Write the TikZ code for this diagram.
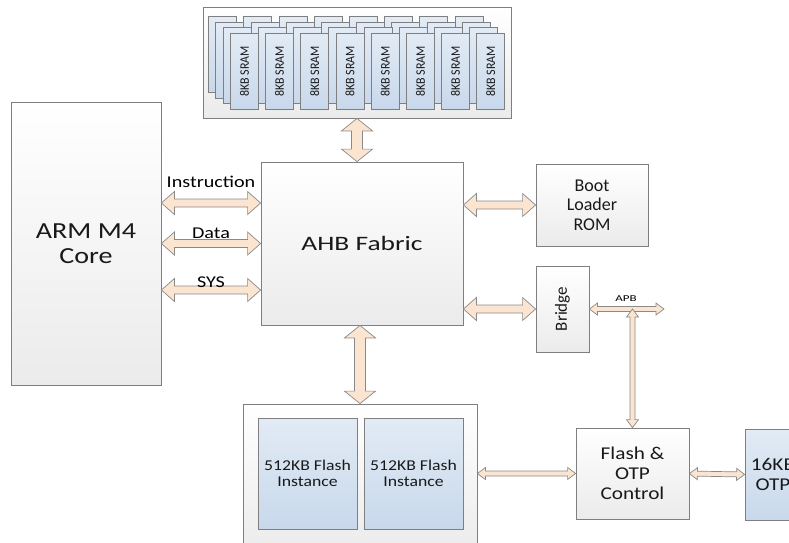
\documentclass[tikz,border=0pt]{standalone}
\usepackage{fontspec}
\usepackage{graphicx}
\setmainfont{Carlito}
\newfontfamily\carA[FakeStretch=1.22]{Carlito}
\newfontfamily\carB[FakeStretch=1.34]{Carlito}
\newfontfamily\carC[FakeStretch=1.18]{Carlito}
\newfontfamily\carD[FakeStretch=1.45]{Carlito}
\newfontfamily\carE[FakeStretch=0.92]{Carlito}
\usetikzlibrary{calc}

\definecolor{linegray}{HTML}{7F7F7F}
\definecolor{boxbot}{HTML}{EBEBEB}
\definecolor{memtop}{HTML}{E2EBF5}
\definecolor{membot}{HTML}{C8D8EB}
\definecolor{buspeach}{HTML}{FBE4D0}
\definecolor{busline}{HTML}{8A8A8A}

\tikzset{
  blk/.style={draw=linegray, line width=0.8pt, top color=white, bottom color=boxbot,
    inner sep=0pt, align=center, text=black!90},
  memblk/.style={blk, top color=memtop, bottom color=membot},
  buspoly/.style n args={3}{draw=busline, fill=buspeach, line width=0.7pt, to path={
      let \p1=(\tikztostart), \p2=(\tikztotarget),
          \n1={atan2(\y2-\y1,\x2-\x1)}, \n2={veclen(\x2-\x1,\y2-\y1)} in
      {[shift={(\p1)}, rotate=\n1]
        (0,0) -- (#1,#2) -- (#1,#3) -- (\n2-#1,#3) -- (\n2-#1,#2) -- (\n2,0)
        -- (\n2-#1,-#2) -- (\n2-#1,-#3) -- (#1,-#3) -- (#1,-#2) -- cycle}}},
  bus/.style={buspoly={13}{11.5}{4}},
  vbus/.style={buspoly={12.5}{15.5}{5.5}},
  apb/.style={buspoly={8}{6}{2.5}},
  buslbl/.style={anchor=base, inner sep=0pt, font=\carA\fontsize{16.5}{18}\selectfont},
}

\begin{document}
\begin{tikzpicture}[x=1pt, y=-1pt]
  \useasboundingbox (0,0) rectangle (789,542);

  % SRAM parameters
  \def\cardx{230}   % left edge of first front card
  \def\cardy{33}    % top edge of front cards
  \def\pitch{35.2}  % distance between stacks
  \def\dx{7.3}      % layer offset x
  \def\dy{5.7}      % layer offset y

  % SRAM group
  \node[blk, minimum width=308, minimum height=111] (sramgrp) at (357,62.5) {};

  % back layers of the SRAM stacks
  \foreach \j in {3,2,1} {
    \foreach \k in {0,...,7} {
      \node[memblk, minimum width=28, minimum height=76, anchor=north west]
        (bank\k-\j) at (\cardx+\pitch*\k-\dx*\j, \cardy-\dy*\j) {};
    }
  }
  % front layer
  \foreach \k [count=\n] in {0,...,7} {
    \node[memblk, minimum width=28, minimum height=76, anchor=north west,
      font=\carE\fontsize{13}{14}\selectfont]
      (sram\n) at (\cardx+\pitch*\k, \cardy) {\rotatebox{90}{8KB SRAM}};
  }

  % main blocks
  \node[blk, minimum width=150, minimum height=283, font=\carA\fontsize{23}{25}\selectfont]
    (arm) at (86,243.5) {ARM M4\\Core};
  \node[blk, minimum width=202, minimum height=163, font=\carB\fontsize{20.5}{22}\selectfont]
    (ahb) at (362,243.5) {AHB Fabric};
  \node[blk, minimum width=112, minimum height=82, font=\fontsize{18}{19.5}\selectfont]
    (rom) at (592,205) {Boot\\Loader\\ROM};
  \node[blk, minimum width=53, minimum height=86, font=\fontsize{17}{18}\selectfont]
    (bridge) at (562.5,309) {\rotatebox{90}{Bridge}};

  % flash
  \node[blk, minimum width=234, minimum height=150] (flashgrp) at (360,479) {};
  \node[memblk, minimum width=99, minimum height=111, font=\carC\fontsize{15}{16}\selectfont]
    (flash1) at (307.5,473.5) {512KB Flash\\Instance};
  \node[memblk, minimum width=99, minimum height=111, font=\carC\fontsize{15}{16}\selectfont]
    (flash2) at (413.5,473.5) {512KB Flash\\Instance};
  \node[blk, minimum width=113, minimum height=91, font=\carC\fontsize{18}{20}\selectfont]
    (fctrl) at (632.5,473.5) {Flash \&\\OTP\\Control};
  \node[memblk, minimum width=56, minimum height=91, font=\carC\fontsize{18}{20}\selectfont]
    (otp) at (773,474.5) {16KB\\OTP};
  \coordinate (apbend) at (664,309);

  % core buses
  \draw[bus] ([yshift=40.5]arm.east) to ([yshift=40.5]ahb.west);
  \draw[bus] (arm.east) to (ahb.west);
  \draw[bus] ([yshift=-46.5]arm.east) to ([yshift=-46.5]ahb.west);
  \node[buslbl] (lblins) at (211,187) {Instruction};
  \node[buslbl] (lbldata) at (211,238) {Data};
  \node[buslbl] (lblsys) at (211,287) {SYS};

  % fabric buses
  \draw[vbus] (sramgrp.south) to (sramgrp.south |- ahb.north);
  \draw[vbus] (flashgrp.north |- ahb.south) to (flashgrp.north);
  \draw[bus] (ahb.east |- rom.west) to (rom.west);
  \draw[bus] (ahb.east |- bridge.west) to (bridge.west);

  % APB and flash control
  \draw[apb] (bridge.east) to (apbend);
  \draw[apb] (fctrl.north |- apbend) to (fctrl.north);
  \node[anchor=base, inner sep=0pt, font=\carD\fontsize{9}{10}\selectfont] (lblapb) at (626,301) {APB};
  \draw[apb] (flashgrp.east |- fctrl.west) to (fctrl.west);
  \draw[apb] (fctrl.east) to (otp.west);

\end{tikzpicture}
\end{document}
